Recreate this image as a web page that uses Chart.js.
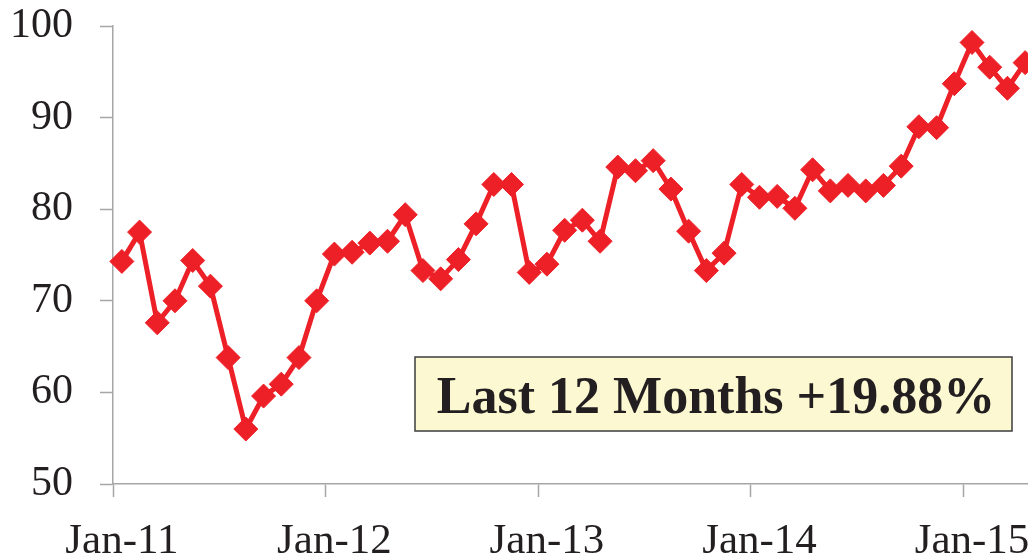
<!DOCTYPE html>
<html>
<head>
<meta charset="utf-8">
<script src="https://cdn.jsdelivr.net/npm/chart.js@4/dist/chart.umd.min.js"></script>
<style>
  html, body { margin: 0; padding: 0; background: #fff; overflow: hidden; }
  #wrap { width: 1028px; height: 558px; overflow: hidden; }
</style>
</head>
<body>
<div id="wrap"><canvas id="chart" width="1047" height="558"></canvas></div>
<script>
// Monthly index, Jan-11 .. Apr-15
const MONTHS = [
  'Jan-11', 'Feb-11', 'Mar-11', 'Apr-11', 'May-11', 'Jun-11', 'Jul-11', 'Aug-11', 'Sep-11', 'Oct-11', 'Nov-11', 'Dec-11',
  'Jan-12', 'Feb-12', 'Mar-12', 'Apr-12', 'May-12', 'Jun-12', 'Jul-12', 'Aug-12', 'Sep-12', 'Oct-12', 'Nov-12', 'Dec-12',
  'Jan-13', 'Feb-13', 'Mar-13', 'Apr-13', 'May-13', 'Jun-13', 'Jul-13', 'Aug-13', 'Sep-13', 'Oct-13', 'Nov-13', 'Dec-13',
  'Jan-14', 'Feb-14', 'Mar-14', 'Apr-14', 'May-14', 'Jun-14', 'Jul-14', 'Aug-14', 'Sep-14', 'Oct-14', 'Nov-14', 'Dec-14',
  'Jan-15', 'Feb-15', 'Mar-15', 'Apr-15',
];

const VALUES = [
  74.3, 77.5, 67.6, 70.0, 74.4, 71.6, 63.8, 56.0, 59.6, 60.9, 63.8, 70.0,
  75.1, 75.3, 76.3, 76.5, 79.4, 73.3, 72.4, 74.5, 78.4, 82.7, 82.7, 73.1,
  74.0, 77.7, 78.8, 76.5, 84.6, 84.2, 85.3, 82.2, 77.6, 73.3, 75.2, 82.7,
  81.3, 81.4, 80.1, 84.3, 82.0, 82.6, 82.0, 82.6, 84.7, 89.0, 88.9, 93.7,
  98.2, 95.5, 93.2, 96.0,
];

const X_TICKS = ['Jan-11', 'Jan-12', 'Jan-13', 'Jan-14', 'Jan-15'];
const Y_MIN = 50, Y_MAX = 100, Y_STEP = 10;

const NOTE_TEXT = 'Last 12 Months +19.88%';

const RED = '#ed2027';
const AXIS = '#a6a6a6';
const INK = '#231f20';

Chart.defaults.font.family = "'Liberation Serif', 'Times New Roman', serif";
Chart.defaults.color = INK;

// ── Note box drawn over the chart ─────────────────────────────────────────────
const noteBox = {
  id: 'noteBox',
  afterDraw(chart) {
    const { ctx } = chart;
    const x = 415, y = 357, w = 597, h = 74;
    ctx.save();
    ctx.fillStyle = '#fbf8d2';
    ctx.fillRect(x, y, w, h);
    ctx.strokeStyle = '#3d3d3d';
    ctx.lineWidth = 1.5;
    ctx.strokeRect(x, y, w, h);
    ctx.fillStyle = INK;
    ctx.font = "bold 52px 'Liberation Serif', 'Times New Roman', serif";
    ctx.textAlign = 'center';
    ctx.textBaseline = 'alphabetic';
    ctx.fillText(NOTE_TEXT, 716, 413);
    ctx.restore();
  },
};

const isJanBoundary = (ctx) => ctx.index < MONTHS.length && X_TICKS.includes(MONTHS[ctx.index]);

new Chart(document.getElementById('chart'), {
  type: 'line',
  data: {
    labels: MONTHS,
    datasets: [{
      data: VALUES,
      borderColor: RED,
      backgroundColor: RED,
      borderWidth: 5,
      pointStyle: 'rectRot',
      pointRadius: 12,
      pointBorderWidth: 1,
      pointBackgroundColor: RED,
      pointBorderColor: RED,
      tension: 0,
      clip: false,
    }],
  },
  options: {
    responsive: false,
    animation: false,
    layout: { padding: { top: 0, right: 5, left: 0, bottom: 0 } },
    plugins: {
      legend: { display: false },
      tooltip: { enabled: false },
    },
    scales: {
      x: {
        type: 'category',
        offset: true,
        grid: {
          offset: true,
          drawOnChartArea: false,
          tickLength: 13,
          tickWidth: 1.5,
          tickColor: (ctx) => isJanBoundary(ctx) ? AXIS : 'rgba(0,0,0,0)',
          color: 'rgba(0,0,0,0)',
        },
        border: { color: AXIS, width: 1.5 },
        ticks: {
          autoSkip: false,
          maxRotation: 0,
          padding: 19,
          font: { size: 43 },
          color: INK,
          callback: function (v) {
            const lab = this.getLabelForValue(v);
            return X_TICKS.includes(lab) ? lab : '';
          },
        },
        afterFit: (scale) => { scale.height = 74; },
      },
      y: {
        min: Y_MIN,
        max: Y_MAX,
        grid: {
          drawOnChartArea: false,
          tickLength: 13,
          tickWidth: 1.5,
          tickColor: AXIS,
        },
        border: { color: AXIS, width: 1.5 },
        ticks: {
          stepSize: Y_STEP,
          padding: 27,
          font: { size: 42 },
          color: INK,
        },
        afterFit: (scale) => {
          scale.width = 113;
          scale.paddingTop = 26;
          scale.paddingBottom = 0;
        },
      },
    },
  },
  plugins: [noteBox],
});
</script>
</body>
</html>
